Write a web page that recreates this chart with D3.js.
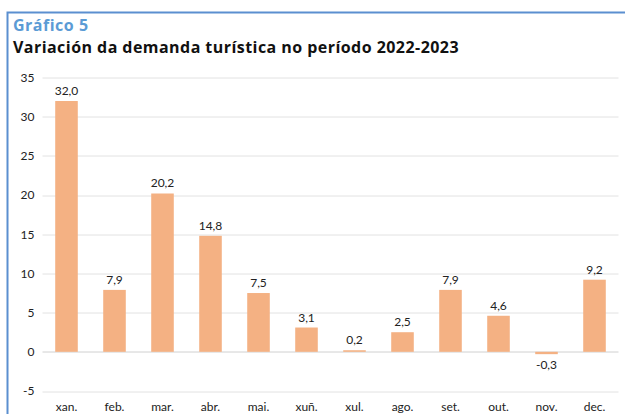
<!DOCTYPE html>
<html>
<head>
<meta charset="utf-8">
<script src="https://cdn.jsdelivr.net/npm/d3@7"></script>
<style>
  body { margin: 0; background: #fff; }
  text { font-family: Lato, "Open Sans", sans-serif; }
</style>
</head>
<body>
<div id="chart"></div>
<script>
// Data
var months = ["xan.", "feb.", "mar.", "abr.", "mai.", "xuñ.", "xul.", "ago.", "set.", "out.", "nov.", "dec."];
var values = [32.0, 7.9, 20.2, 14.8, 7.5, 3.1, 0.2, 2.5, 7.9, 4.6, -0.3, 9.2];
var yTicks = [-5, 0, 5, 10, 15, 20, 25, 30, 35];

var svgWidth = 625;
var svgHeight = 414;

var margin = { top: 77.5, right: 6.5, bottom: 23, left: 42.5 };
var chartWidth = svgWidth - margin.left - margin.right;
var chartHeight = svgHeight - margin.top - margin.bottom;

var svg = d3.select("#chart")
  .append("svg")
  .attr("width", svgWidth)
  .attr("height", svgHeight);

// Frame
svg.append("path")
  .attr("d", "M7.5,414 V12.5 H625")
  .attr("fill", "none")
  .attr("stroke", "#5b8fd0")
  .attr("stroke-width", 2);

// Titles
svg.append("text")
  .attr("x", 13)
  .attr("y", 30.5)
  .attr("fill", "#5b9bd5")
  .attr("font-size", "16px")
  .attr("font-weight", "bold")
  .attr("letter-spacing", "0.5px")
  .style("font-family", "'Open Sans', sans-serif")
  .text("Gráfico 5");

svg.append("text")
  .attr("x", 13)
  .attr("y", 53)
  .attr("fill", "#111")
  .attr("font-size", "16px")
  .attr("font-weight", "bold")
  .attr("letter-spacing", "0.45px")
  .style("font-family", "'Open Sans', sans-serif")
  .text("Variación da demanda turística no período 2022-2023");

var chartGroup = svg.append("g")
  .attr("transform", `translate(${margin.left}, ${margin.top})`);

var xScale = d3.scaleBand()
  .domain(months)
  .range([0, chartWidth])
  .paddingInner(0.53)
  .paddingOuter(0.265);

var yScale = d3.scaleLinear()
  .domain([-5, 35])
  .range([313.5, 0]);

// Gridlines
chartGroup.selectAll(".grid")
  .data(yTicks)
  .enter()
  .append("line")
  .attr("x1", 0)
  .attr("x2", chartWidth)
  .attr("y1", d => Math.round(yScale(d)) + 0.5)
  .attr("y2", d => Math.round(yScale(d)) + 0.5)
  .attr("stroke", d => d === 0 ? "#d0d0d0" : "#e2e2e2")
  .attr("stroke-width", 1);

// Y axis labels
var leftAxis = d3.axisLeft(yScale)
  .tickValues(yTicks)
  .tickFormat(d => String(d))
  .tickSize(0)
  .tickPadding(8);
var yAxisG = chartGroup.append("g").call(leftAxis);
yAxisG.select(".domain").remove();
yAxisG.selectAll("text")
  .attr("font-size", "12px")
  .attr("fill", "#222")
  .style("font-family", "Lato, sans-serif");

// Bars
chartGroup.selectAll("rect")
  .data(values)
  .enter()
  .append("rect")
  .attr("x", (d, i) => xScale(months[i]))
  .attr("y", d => yScale(Math.max(0, d)))
  .attr("width", xScale.bandwidth())
  .attr("height", d => Math.abs(yScale(d) - yScale(0)))
  .attr("fill", "#f4b183");

// Value labels
chartGroup.selectAll(".val")
  .data(values)
  .enter()
  .append("text")
  .attr("class", "val")
  .attr("x", (d, i) => xScale(months[i]) + xScale.bandwidth() / 2)
  .attr("y", d => d >= 0 ? yScale(d) - 6 : yScale(d) + 15)
  .attr("text-anchor", "middle")
  .attr("font-size", "12px")
  .attr("fill", "#222")
  .text(d => d.toFixed(1).replace(".", ","));

// Category labels
var bottomAxis = d3.axisBottom(xScale).tickSize(0).tickPadding(0);
var xAxisG = chartGroup.append("g")
  .attr("transform", `translate(0, ${chartHeight + 11})`)
  .call(bottomAxis);
xAxisG.select(".domain").remove();
xAxisG.selectAll("text")
  .attr("font-size", "12px")
  .attr("fill", "#222")
  .style("font-family", "Lato, sans-serif");
</script>
</body>
</html>
